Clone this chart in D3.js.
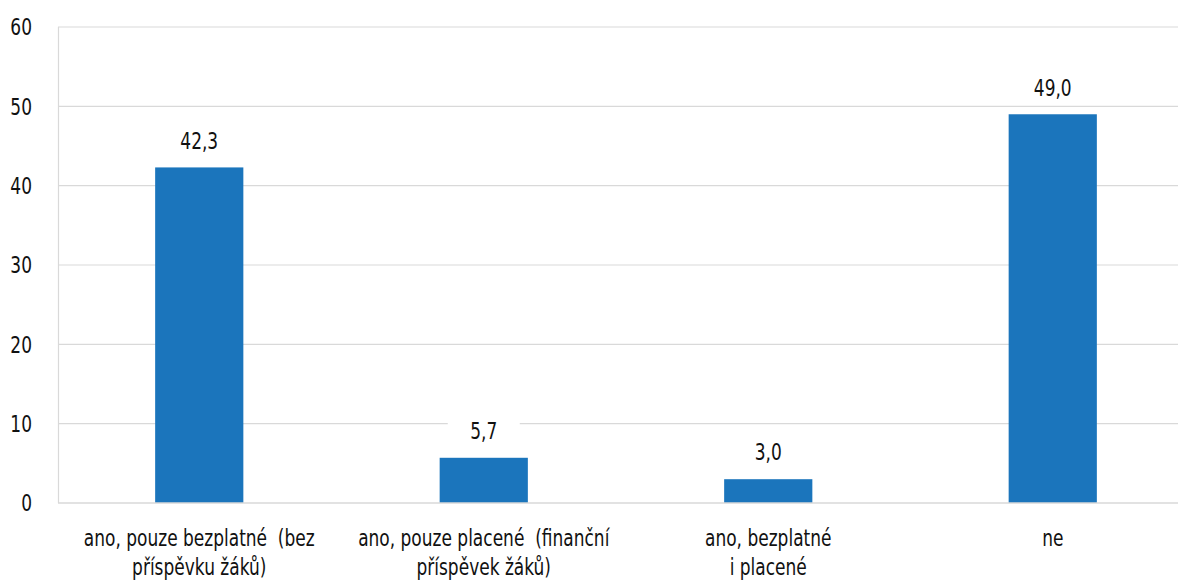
<!DOCTYPE html>
<html><head><meta charset="utf-8">
<script src="https://cdn.jsdelivr.net/npm/d3@7"></script>
<style>body{margin:0;background:#fff}svg{display:block}text{font-family:"DejaVu Sans",sans-serif;fill:#111}</style>
</head><body>
<svg id="c" width="1178" height="581"></svg>
<script>
const categories = [
  ["ano, pouze bezplatné  (bez", "příspěvku žáků)"],
  ["ano, pouze placené  (finanční", "příspěvek žáků)"],
  ["ano, bezplatné", "i placené"],
  ["ne"]
];
const values = [42.3, 5.7, 3.0, 49.0];
const yTicks = [0, 10, 20, 30, 40, 50, 60];

const SX = 0.74, FS = 23;
const svg = d3.select("#c");
const x = d3.scaleBand().domain(d3.range(values.length)).range([57, 1195]).paddingInner(0.69).paddingOuter(0.345);
const y = d3.scaleLinear().domain([0, 60]).range([503, 27]);

// gridlines
svg.append("g").selectAll("line").data(yTicks.slice(1)).join("line")
  .attr("x1", 58).attr("x2", 1178).attr("y1", d => y(d)).attr("y2", d => y(d))
  .attr("stroke", "#d9d9d9").attr("stroke-width", 1.2);
// left axis line
svg.append("line").attr("x1", 58.5).attr("x2", 58.5).attr("y1", y(60)).attr("y2", y(0)).attr("stroke", "#d9d9d9").attr("stroke-width", 1.2);
// y tick labels
svg.append("g").selectAll("text").data(yTicks).join("text")
  .attr("transform", d => `translate(32,${y(d)}) scale(${SX},1)`)
  .attr("dy", "0.36em").attr("text-anchor", "end")
  .attr("font-size", FS).text(d => d);

// bars
svg.append("g").selectAll("rect").data(values).join("rect")
  .attr("x", (d, i) => x(i)).attr("width", x.bandwidth())
  .attr("y", d => y(d)).attr("height", d => y(0) - y(d))
  .attr("fill", "#1b75bc");
// baseline
svg.append("line").attr("x1", 58).attr("x2", 1178).attr("y1", y(0)).attr("y2", y(0)).attr("stroke", "#d9d9d9").attr("stroke-width", 1.5);

// value labels (white background)
const vl = svg.append("g").selectAll("g").data(values).join("g")
  .attr("transform", (d, i) => `translate(${x(i) + x.bandwidth() / 2},${y(d) - 27})`);
vl.append("rect").attr("x", -36).attr("y", -15).attr("width", 72).attr("height", 30).attr("fill", "#fff");
vl.append("text").attr("text-anchor", "middle").attr("dy", "0.36em").attr("font-size", FS)
  .attr("transform", `scale(${SX},1)`)
  .text(d => d.toFixed(1).replace(".", ","));

// category labels
const cl = svg.append("g").selectAll("text").data(categories).join("text")
  .attr("text-anchor", "middle").attr("font-size", FS)
  .attr("transform", (d, i) => `translate(${x(i) + x.bandwidth() / 2},546) scale(${SX},1)`)
  .style("white-space", "pre");
cl.selectAll("tspan").data(d => d).join("tspan")
  .attr("x", 0).attr("y", (d, j) => j * 29).text(d => d);
</script>
</body></html>
